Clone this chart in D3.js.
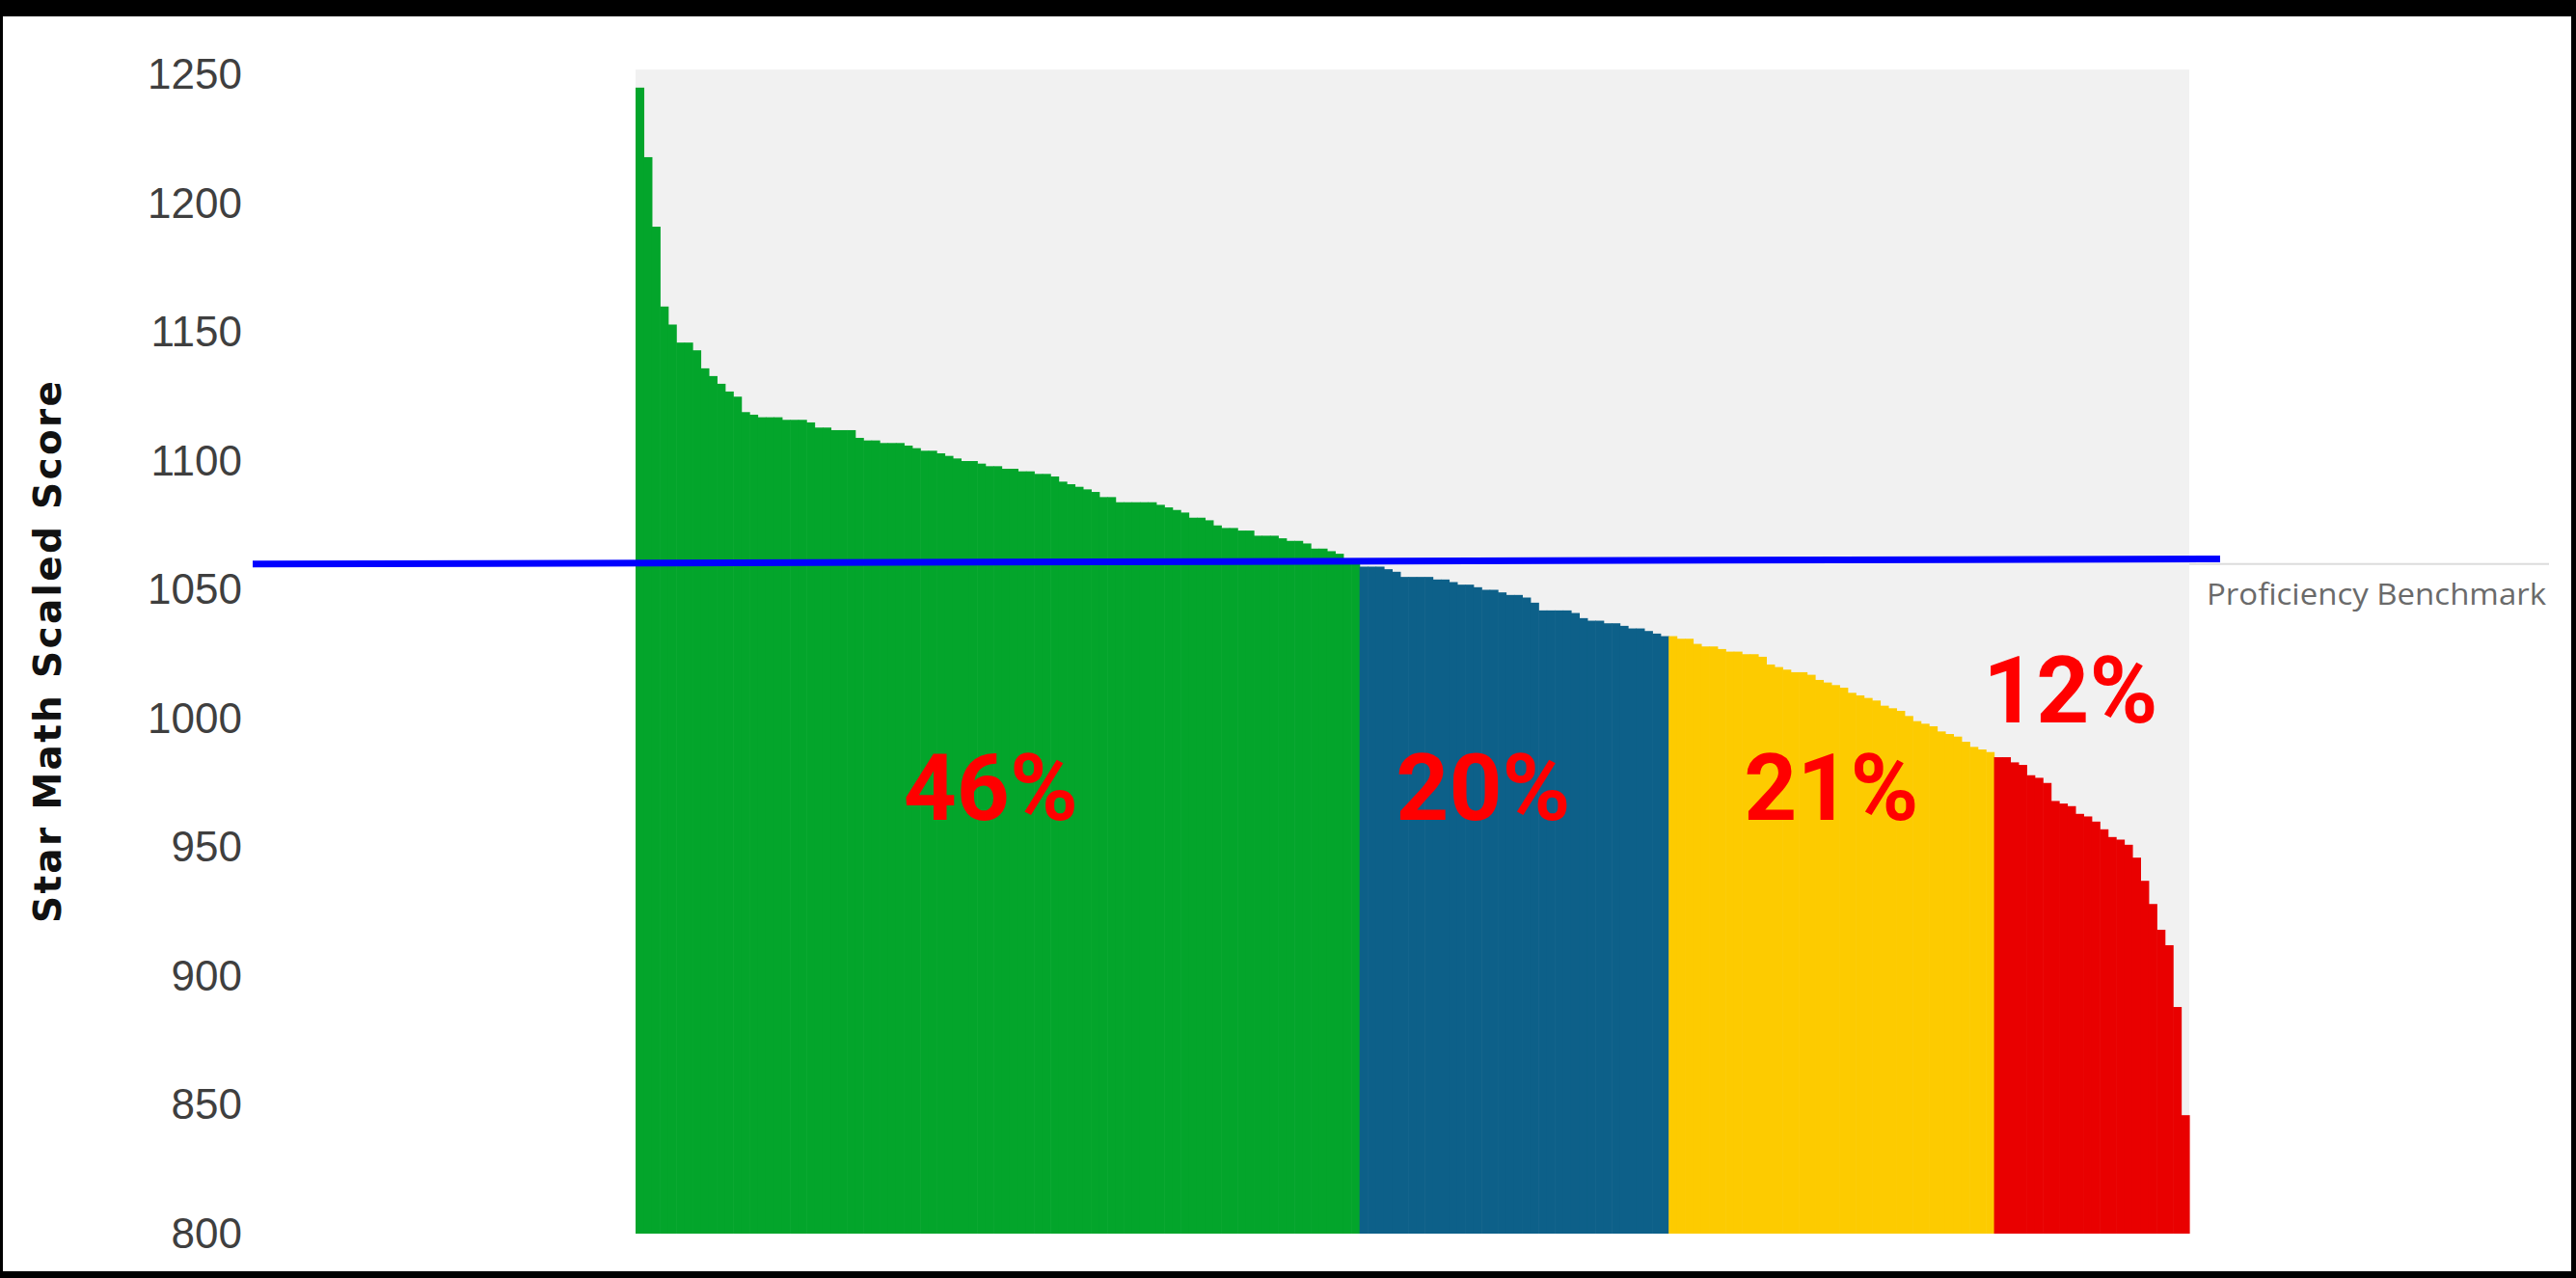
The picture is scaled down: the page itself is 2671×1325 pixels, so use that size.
<!DOCTYPE html>
<html>
<head>
<meta charset="utf-8">
<script src="https://cdn.jsdelivr.net/npm/d3@7"></script>
<style>
body { margin: 0; background: #000; }
</style>
</head>
<body>
<script>
// student scores, sorted high to low, one array per Star Math group
var aboveBenchmark = [1245,1218,1191,1160,1153,1146,1146,1143,1136,1133,1130,1127,1125,1119,1118,1117,1117,
  1117,1116,1116,1116,1115,1113,1113,1112,1112,1112,
  1109,1108,1108,1107,1107,1107,1106,1105,1104,1104,
  1103,1102,1101,1100,1100,1099,1098,1098,1097,1097,
  1096,1096,1095,1095,1094,1092,1091,1090,1089,1088,
  1086,1086,1084,1084,1084,1084,1084,1083,1082,1081,
  1080,1078,1078,1077,1075,1074,1074,1073,1073,1071,
  1071,1071,1070,1069,1069,1068,1066,1066,1065,1064,
  1062,1061];
var onWatch = [1059,1059,1059,1058,1057,1055,1055,1055,1055,1054,1054,1053,1052,1052,1051,1050,1050,1049,1048,
  1048,1047,1045,1042,1042,1042,1042,1041,1039,1038,1038,1037,1037,1036,1035,1035,1034,1033,1032];
var intervention = [1032,1031,1031,1029,1028,1028,1027,1026,1026,1025,1025,1024,1021,1020,1019,1018,1018,1017,1015,1014,
  1013,1012,1010,1009,1008,1007,1005,1004,1003,1001,999,998,997,995,994,993,991,989,988,987];
var urgent = [985,985,983,982,978,977,975,968,967,966,963,962,960,957,954,953,951,946,937,928,918,912,888,846];

var groupPercents = ["46%", "20%", "21%", "12%"];
var yTicks = [800, 850, 900, 950, 1000, 1050, 1100, 1150, 1200, 1250];
var benchmark = 1060;

var groupColors = ["#03a52b", "#0d6089", "#fdcb00", "#e90000"];

var width = 2671, height = 1325;
var svg = d3.select("body").append("svg")
    .attr("width", width)
    .attr("height", height);

// black frame with white page inside
svg.append("rect").attr("x", 0).attr("y", 0).attr("width", width).attr("height", height).attr("fill", "#000");
svg.append("rect").attr("x", 3).attr("y", 17).attr("width", 2663).attr("height", 1301).attr("fill", "#fff");

// flatten groups into one list of bars
var groups = [aboveBenchmark, onWatch, intervention, urgent];
var bars = [];
groups.forEach(function(g, gi) {
  g.forEach(function(v) { bars.push({ score: v, group: gi }); });
});

var x = d3.scaleBand().domain(d3.range(bars.length)).range([659, 2270]).padding(0);
var y = d3.scaleLinear().domain([800, 1250]).range([1279, 77.5]);

// plot background
svg.append("rect")
   .attr("x", 659).attr("y", y(1252))
   .attr("width", 2270 - 659).attr("height", y(800) - y(1252))
   .attr("fill", "#f1f1f1");

// bars
svg.append("g").selectAll("rect")
   .data(bars)
   .enter().append("rect")
   .attr("x", function(d, i) { return x(i); })
   .attr("y", function(d) { return y(d.score); })
   .attr("width", x.bandwidth() + 0.6)
   .attr("height", function(d) { return y(800) - y(d.score); })
   .attr("fill", function(d) { return groupColors[d.group]; });

// y axis, labels only
var yAxis = d3.axisLeft(y).tickValues(yTicks).tickSize(0).tickPadding(0).tickFormat(d3.format("d"));
var axisG = svg.append("g").attr("transform", "translate(251,0)").call(yAxis);
axisG.select(".domain").remove();
axisG.selectAll("text")
     .attr("font-family", "Liberation Sans, Arial, sans-serif")
     .attr("font-size", "44px")
     .attr("fill", "#3f3f3f");

svg.append("text")
   .attr("transform", "translate(63,676) rotate(-90)")
   .attr("text-anchor", "middle")
   .attr("font-family", "DejaVu Sans, sans-serif")
   .attr("font-weight", "bold")
   .attr("font-size", "39px")
   .attr("textLength", 562)
   .attr("lengthAdjust", "spacing")
   .attr("fill", "#111")
   .text("Star Math Scaled Score");

// original grey benchmark line and its label
svg.append("line")
   .attr("x1", 2270).attr("x2", 2643)
   .attr("y1", y(benchmark)).attr("y2", y(benchmark))
   .attr("stroke", "#dcdcdc").attr("stroke-width", 2);
svg.append("text")
   .attr("x", 2288).attr("y", 627)
   .attr("font-family", "Open Sans, sans-serif")
   .attr("font-size", "31px")
   .attr("textLength", 352)
   .attr("lengthAdjust", "spacingAndGlyphs")
   .attr("fill", "#6a6a6a")
   .text("Proficiency Benchmark");

// hand drawn blue benchmark line
svg.append("line")
   .attr("x1", 262).attr("x2", 2302)
   .attr("y1", y(benchmark)).attr("y2", y(benchmark + 2))
   .attr("stroke", "#0000ff").attr("stroke-width", 7);

// percentage of students in each group
var starts = [0];
groups.forEach(function(g, gi) { starts.push(starts[gi] + g.length); });
var labelDx = [-7, -32, 0, -22];
var labelScore = [960.5, 960.5, 960.5, 998.5];
groupPercents.forEach(function(p, i) {
  var cx = (x(starts[i]) + x(starts[i + 1] - 1) + x.bandwidth()) / 2 + labelDx[i];
  svg.append("text")
     .attr("x", cx).attr("y", y(labelScore[i]))
     .attr("text-anchor", "middle")
     .attr("font-family", "Roboto, sans-serif")
     .attr("font-weight", "bold")
     .attr("font-size", "96px")
     .attr("fill", "#ff0000")
     .text(p);
});
</script>
</body>
</html>
